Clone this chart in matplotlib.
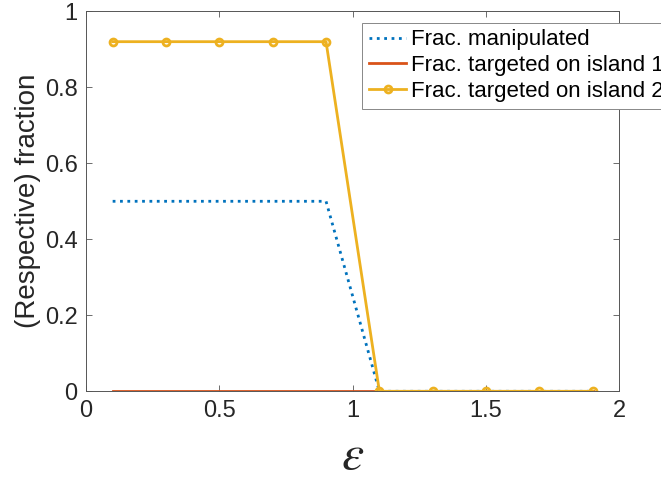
import matplotlib
matplotlib.use("Agg")
import matplotlib.pyplot as plt

plt.rcParams['font.family'] = ['Liberation Sans', 'DejaVu Sans']
plt.rcParams['mathtext.fontset'] = 'stix'

# data
eps = [0.1, 0.3, 0.5, 0.7, 0.9, 1.1, 1.3, 1.5, 1.7, 1.9]
frac_manipulated = [0.5, 0.5, 0.5, 0.5, 0.5, 0, 0, 0, 0, 0]
frac_island1 = [0, 0, 0, 0, 0, 0, 0, 0, 0, 0]
frac_island2 = [0.92, 0.92, 0.92, 0.92, 0.92, 0, 0, 0, 0, 0]
labels = ['Frac. manipulated', 'Frac. targeted on island 1', 'Frac. targeted on island 2']

blue = '#0072BD'
red = '#D95319'
gold = '#EDB120'

fig = plt.figure(figsize=(6.61, 4.8), dpi=100)
ax = fig.add_axes([0.1301, 0.1848, 0.807, 0.7917])

l1, = ax.plot(eps, frac_manipulated, ':', color=blue, lw=2)
l2, = ax.plot(eps, frac_island1, '-', color=red, lw=2)
l3, = ax.plot(eps, frac_island2, '-', color=gold, lw=2, marker='o',
              markersize=5, markerfacecolor='none', markeredgewidth=2)

ax.set_xlim(0, 2)
ax.set_ylim(0, 1)
ax.set_xticks([0, 0.5, 1, 1.5, 2])
ax.set_xticklabels(['0', '0.5', '1', '1.5', '2'])
ax.set_yticks([0, 0.2, 0.4, 0.6, 0.8, 1])
ax.set_yticklabels(['0', '0.2', '0.4', '0.6', '0.8', '1'])

for s in ax.spines.values():
    s.set_color('#555555')
    s.set_linewidth(0.7)
ax.tick_params(direction='in', length=4, width=0.6, color='#555555',
               labelsize=17, labelcolor='#262626', top=True, right=True, pad=6)

ax.set_xlabel(r'$\varepsilon$', fontsize=36, color='#262626', labelpad=8)
ax.set_ylabel('(Respective) fraction', fontsize=20, color='#262626', labelpad=3)

leg = fig.legend([l1, l2, l3], labels, loc='upper left',
                 bbox_to_anchor=(362 / 661, 1 - 22.7 / 480),
                 fontsize=16, frameon=True, fancybox=False, framealpha=1,
                 edgecolor='#888888', borderaxespad=0, borderpad=0.3,
                 handlelength=1.7, handletextpad=0.2, labelspacing=0.22)
leg.get_frame().set_linewidth(0.7)

fig.savefig('out.png', dpi=100)
